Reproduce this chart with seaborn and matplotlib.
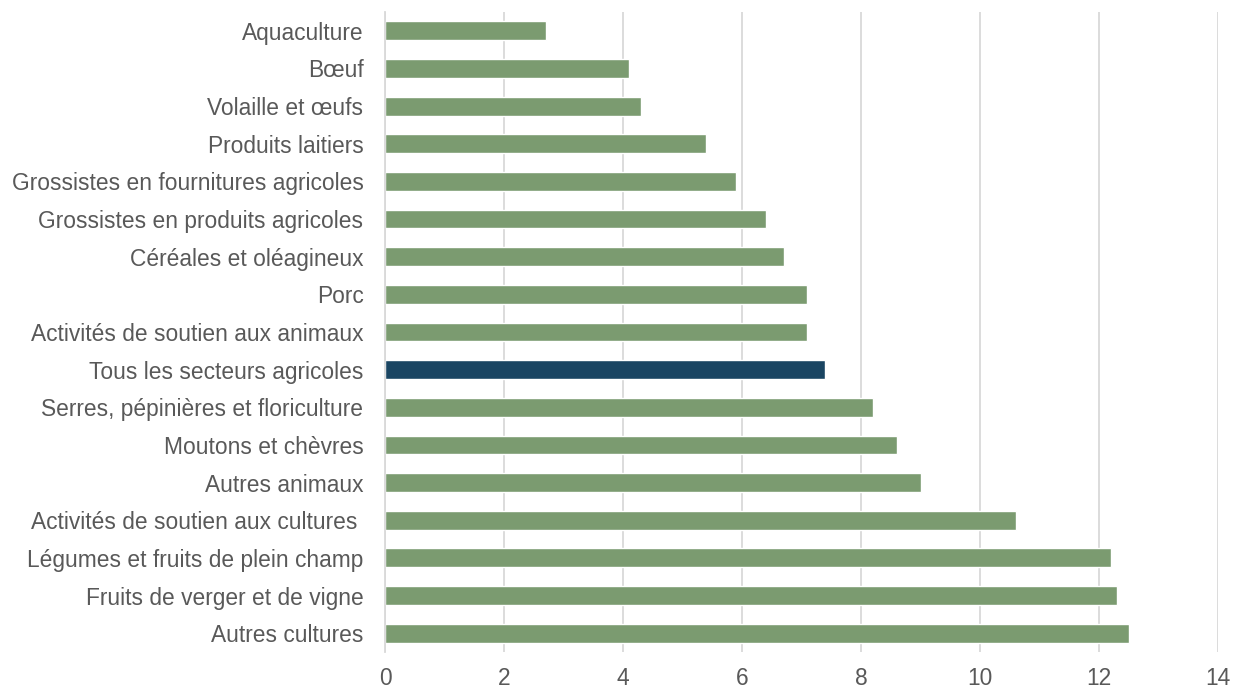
import matplotlib
matplotlib.use("Agg")
import matplotlib.pyplot as plt
import seaborn as sns
import pandas as pd

categories = [
    "Aquaculture",
    "Bœuf",
    "Volaille et œufs",
    "Produits laitiers",
    "Grossistes en fournitures agricoles",
    "Grossistes en produits agricoles",
    "Céréales et oléagineux",
    "Porc",
    "Activités de soutien aux animaux",
    "Tous les secteurs agricoles",
    "Serres, pépinières et floriculture",
    "Moutons et chèvres",
    "Autres animaux",
    "Activités de soutien aux cultures ",
    "Légumes et fruits de plein champ",
    "Fruits de verger et de vigne",
    "Autres cultures",
]
values = [2.7, 4.1, 4.3, 5.4, 5.9, 6.4, 6.7, 7.1, 7.1, 7.4, 8.2, 8.6, 9.0, 10.6, 12.2, 12.3, 12.5]
highlight = "Tous les secteurs agricoles"
x_ticks = [0, 2, 4, 6, 8, 10, 12, 14]

GREEN = "#7b9b70"
NAVY = "#1a4562"
TEXT = "#595959"
GRID = "#d9d9d9"

sns.set_theme(style="white")
plt.rcParams["font.family"] = ["Liberation Sans", "DejaVu Sans"]

df = pd.DataFrame({"secteur": categories, "valeur": values})
df["groupe"] = ["total" if c == highlight else "secteur" for c in categories]

fig = plt.figure(figsize=(12.41, 6.90), dpi=100)
ax = fig.add_axes([0.3102, 0.0551, 0.6713, 0.9275])

sns.barplot(
    data=df, y="secteur", x="valeur", hue="groupe",
    palette={"secteur": GREEN, "total": NAVY},
    orient="h", width=0.5, legend=False, ax=ax, dodge=False,
    saturation=1,
)

ax.set_xlim(0, 14)
ax.set_xticks(x_ticks)
ax.set_xticklabels([str(t) for t in x_ticks])
ax.set_xlabel("")
ax.set_ylabel("")
ax.xaxis.grid(True, color=GRID, linewidth=1.3)
ax.set_axisbelow(True)
for side in ["top", "right", "bottom"]:
    ax.spines[side].set_visible(False)
ax.spines["left"].set_color(GRID)
ax.spines["left"].set_linewidth(1.3)
ax.tick_params(axis="both", length=0, labelsize=16.4, colors=TEXT)
ax.tick_params(axis="y", pad=15.5)
ax.tick_params(axis="x", pad=11)

fig.savefig("out.png", dpi=100)
